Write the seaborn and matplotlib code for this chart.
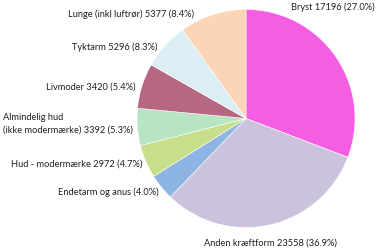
import matplotlib
matplotlib.use("Agg")
import matplotlib.pyplot as plt
import seaborn as sns

# Categories in drawing order (clockwise from 12 o'clock)
categories = ["Bryst", "Anden kræftform", "Endetarm og anus", "Hud - modermærke",
              "Almindelig hud\n(ikke modermærke)", "Livmoder", "Tyktarm", "Lunge (inkl luftrør)"]
# Counts and percentages as printed in the labels
counts = [17196, 23558, None, 2972, 3392, 3420, 5296, 5377]
percents = [27.0, 36.9, 4.0, 4.7, 5.3, 5.4, 8.3, 8.4]
# Slice shares as drawn in the picture (percent of the circle)
slice_shares = [30.8, 31.4, 3.9, 4.9, 5.5, 6.7, 6.9, 9.9]
colors = ["#F55DE3", "#CCC2DC", "#8EB4E3", "#C7DE8A", "#B7E4C1", "#B56880", "#DBEEF4", "#FBD5B5"]

sns.set_theme(style="white")
plt.rcParams["font.family"] = ["Lato", "DejaVu Sans"]

W, H = 385, 251
fig = plt.figure(figsize=(W / 100, H / 100), dpi=100)
ax = fig.add_axes([0, 0, 1, 1])
palette = sns.color_palette(colors)

cx, cy, r = 246, H - 119.5, 109
ax.pie(slice_shares, colors=palette, startangle=90, counterclock=False,
       center=(cx, cy), radius=r,
       wedgeprops=dict(edgecolor="white", linewidth=0.4))
ax.set_xlim(0, W)
ax.set_ylim(0, H)
ax.set_aspect("equal")
ax.axis("off")

def label(i):
    name = categories[i]
    if counts[i] is None:
        return f"{name} ({percents[i]:.1f}%)"
    return f"{name} {counts[i]} ({percents[i]:.1f}%)"

fs = 6.7
# (x, y_from_top, ha)
positions = [
    (375, 7.5, "right"),
    (337, 243, "right"),
    (159, 192, "right"),
    (142, 164, "right"),
    (3, 124, "left"),
    (135, 87.5, "right"),
    (157, 47, "right"),
    (194, 14, "right"),
]
for i, (x, yt, ha) in enumerate(positions):
    ax.text(x, H - yt, label(i), ha=ha, va="center", fontsize=fs, color="#231F20",
            multialignment="left", linespacing=1.45)

fig.savefig("out.png", dpi=100)
